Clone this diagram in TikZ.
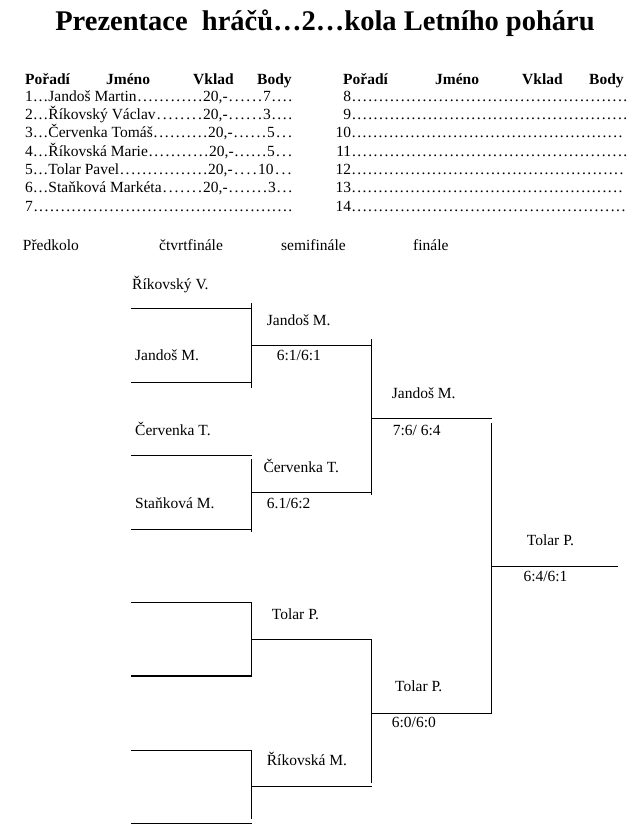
\documentclass[tikz,border=0pt]{standalone}
\usepackage{fontspec}
\setmainfont{Liberation Serif}
\newcommand\mydots{\xleaders\hbox to 5.33pt{\hss.\hss}\hfill}
\newcommand\tabrow[8]{%
  \node[lbl] (#1) at (25,#2) {\hbox to \dimexpr#4pt-25pt\relax{#3\mydots}\hbox to \dimexpr#6pt-#4pt\relax{#5\mydots}\hbox to \dimexpr#8pt-#6pt\relax{#7\mydots}};}
\newcommand\emptyrowR[4]{%
  \node[lbl] (#1) at (335,#2) {\hbox to 16pt{\hss #3}\hbox to \dimexpr#4pt-351pt\relax{\mydots}};}
\begin{document}
\begin{tikzpicture}[x=1pt,y=-1pt,
  lbl/.style={anchor=base west, inner sep=0pt, font=\fontsize{15.5}{18}\selectfont},
  hdr/.style={anchor=base west, inner sep=0pt, font=\bfseries\fontsize{15.5}{18}\selectfont},
  ttl/.style={anchor=base, inner sep=0pt, font=\bfseries\fontsize{28.5}{34}\selectfont},
  bline/.style={line width=1.1pt, black}]
\fill[white] (0,0) rectangle (641,833);
\useasboundingbox (0,0) rectangle (641,833);

% title
\node[ttl] (title) at (325,30) {Prezentace\ \ hráčů…2…kola Letního poháru};

% table headers
\node[hdr] (hL1) at (25,84) {Pořadí};
\node[hdr] (hL2) at (106,84) {Jméno};
\node[hdr] (hL3) at (193,84) {Vklad};
\node[hdr] (hL4) at (257,84) {Body};
\node[hdr] (hR1) at (343,84) {Pořadí};
\node[hdr] (hR2) at (435,84) {Jméno};
\node[hdr] (hR3) at (522,84) {Vklad};
\node[hdr] (hR4) at (589,84) {Body};

% table rows left
\tabrow{r1}{101}{1…Jandoš Martin}{203}{20,-}{263}{7}{293}
\tabrow{r2}{119.3}{2…Říkovský Václav}{203}{20,-}{263}{3}{293}
\tabrow{r3}{137.7}{3…Červenka Tomáš}{208}{20,-}{267}{5}{293}
\tabrow{r4}{156}{4…Říkovská Marie}{209}{20,-}{267}{5}{293}
\tabrow{r5}{174.3}{5…Tolar Pavel}{208}{20,-}{258}{10}{293}
\tabrow{r6}{192.7}{6…Staňková Markéta}{203}{20,-}{268}{3}{293}
\node[lbl] (r7) at (25,211) {\hbox to 268pt{7\mydots}};

% table rows right
\emptyrowR{r8}{101}{8}{628}
\emptyrowR{r9}{119.3}{9}{628}
\emptyrowR{r10}{137.7}{10}{623}
\emptyrowR{r11}{156}{11}{628}
\emptyrowR{r12}{174.3}{12}{624}
\emptyrowR{r13}{192.7}{13}{623}
\emptyrowR{r14}{211}{14}{626}

% round labels
\node[lbl] (rd0) at (22.7,250.7) {Předkolo};
\node[lbl] (rd1) at (159,250.7) {čtvrtfinále};
\node[lbl] (rd2) at (281,250.7) {semifinále};
\node[lbl] (rd3) at (413,250.7) {finále};

% first-round names
\node[lbl] (n1) at (132,289.3) {Říkovský V.};
\node[lbl] (n2) at (135,360) {Jandoš M.};
\node[lbl] (n3) at (135,435.7) {Červenka T.};
\node[lbl] (n4) at (135,508.3) {Staňková M.};

% quarter-final
\node[lbl] (q1) at (266.7,325) {Jandoš M.};
\node[lbl] (q1s) at (276.7,360) {6:1/6:1};
\node[lbl] (q2) at (263.3,472.3) {Červenka T.};
\node[lbl] (q2s) at (266.7,508.3) {6.1/6:2};
\node[lbl] (q3) at (271.7,619) {Tolar P.};
\node[lbl] (q4) at (266.7,765) {Říkovská M.};

% semi-final
\node[lbl] (s1) at (391.7,398.3) {Jandoš M.};
\node[lbl] (s1s) at (392.7,435) {7:6/ 6:4};
\node[lbl] (s2) at (395,691.7) {Tolar P.};
\node[lbl] (s2s) at (391.7,727.7) {6:0/6:0};

% final
\node[lbl] (f1) at (526.7,545) {Tolar P.};
\node[lbl] (f1s) at (523.3,581.7) {6:4/6:1};

% bracket coordinates: first round lines
\foreach \i/\y in {1/308.3,2/382.3,3/455.7,4/529.3,5/602.3,6/676,7/750.7,8/823.3}{
  \coordinate (a\i l) at (131,\y);
  \coordinate (a\i r) at (251.7,\y);
}
% quarter-final lines
\foreach \i/\y in {1/345.7,2/492.3,3/639.3,4/786.7}{
  \coordinate (b\i l) at (251.7,\y);
  \coordinate (b\i r) at (371.7,\y);
}
% semi-final lines
\foreach \i/\y in {1/418.3,2/713.3}{
  \coordinate (c\i l) at (371.7,\y);
  \coordinate (c\i r) at (491.7,\y);
}
\coordinate (dl) at (491.7,566.7);
\coordinate (dr) at (618.3,566.7);

% vertical ends
\coordinate (v1t) at (251.7,303.3); \coordinate (v1b) at (251.7,387.7);
\coordinate (v2t) at (251.7,459.3); \coordinate (v2b) at (251.7,531.7);
\coordinate (v3t) at (251.7,602.3); \coordinate (v3b) at (251.7,676);
\coordinate (v4t) at (251.7,750.7); \coordinate (v4b) at (251.7,819.3);
\coordinate (w1t) at (371.7,339); \coordinate (w1b) at (371.7,495);
\coordinate (w2t) at (371.7,639.3); \coordinate (w2b) at (371.7,782.7);
\coordinate (z1t) at (491.7,423); \coordinate (z1b) at (491.7,713.3);

\foreach \i in {1,...,8}{\draw[bline] (a\i l) -- (a\i r);}
\foreach \i in {1,...,4}{\draw[bline] (b\i l) -- (b\i r);}
\foreach \i in {1,2}{\draw[bline] (c\i l) -- (c\i r);}
\draw[bline] (dl) -- (dr);
\foreach \v in {v1,v2,v3,v4,w1,w2,z1}{\draw[bline] (\v t) -- (\v b);}
\end{tikzpicture}
\end{document}
